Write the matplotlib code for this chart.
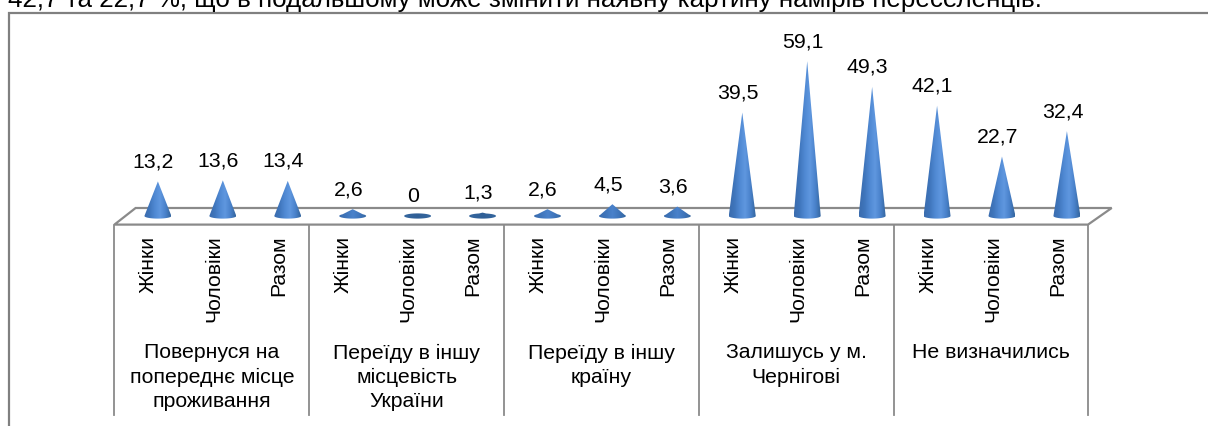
import numpy as np
import matplotlib
matplotlib.use("Agg")
import matplotlib.pyplot as plt
from matplotlib.colors import LinearSegmentedColormap
from matplotlib.patches import Polygon

plt.rcParams['font.family'] = ['Liberation Sans', 'DejaVu Sans']

groups = ["Повернуся на\nпопереднє місце\nпроживання", "Переїду в іншу\nмісцевість\nУкраїни",
          "Переїду в іншу\nкраїну", "Залишусь у м.\nЧернігові", "Не визначились"]
series = ["Жінки", "Чоловіки", "Разом"]
values = [13.2, 13.6, 13.4, 2.6, 0, 1.3, 2.6, 4.5, 3.6, 39.5, 59.1, 49.3, 42.1, 22.7, 32.4]
value_labels = ["13,2", "13,6", "13,4", "2,6", "0", "1,3", "2,6", "4,5", "3,6",
                "39,5", "59,1", "49,3", "42,1", "22,7", "32,4"]
intro = "42,7 та 22,7 %, що в подальшому може змінити наявну картину намірів переселенців."

W, H = 1208, 426
fig = plt.figure(figsize=(W / 100, H / 100), dpi=100, facecolor="white")

# pixel-space axes for the frame and the floor
pa = fig.add_axes([0, 0, 1, 1])
pa.set_xlim(0, W); pa.set_ylim(H, 0); pa.axis("off")
GRAY = "#8a8a8a"
pa.plot([8.8, 8.8, W], [H, 12.8, 12.8], color="#808080", lw=1.6, solid_joinstyle="miter")
pa.add_patch(Polygon([(114.4, 224.6), (135.6, 208), (1111.7, 208), (1088, 224.6)],
                     closed=True, fill=False, ec=GRAY, lw=1.6))
slot = 64.93
for k in range(6):
    x = 114.4 + k * 3 * slot
    pa.plot([x, x], [224.6, 415], color=GRAY, lw=1.3)
pa.text(8, 7.5, intro, fontsize=18.7, color="black", va="baseline", ha="left")

# data axes: category index on x, value on y
da = fig.add_axes([0, 0, 1, 1])
da.patch.set_alpha(0)
y0, ppu = 216.0, 2.62
x0 = 146.9
da.set_xlim(-x0 / slot, (W - x0) / slot)
da.set_ylim((y0 - H) / ppu, y0 / ppu)
da.axis("off")

cmap = LinearSegmentedColormap.from_list(
    "cone", ["#3a6cae", "#3f75bb", "#5089d3", "#5f97df", "#4a82cb", "#34669f"])
low = LinearSegmentedColormap.from_list("low", ["#3a6cae", "#3f75bb", "#4a82cb", "#3f75bb", "#34669f"])
flat = LinearSegmentedColormap.from_list("flat", ["#36679f", "#2f5f96", "#36679f"])
grad = np.linspace(0, 1, 64).reshape(1, -1)
shift = 11 / slot
hw = 13.5 / slot
eh = 2.6 / ppu
for i, (v, lab) in enumerate(zip(values, value_labels)):
    c = i + shift
    s = np.linspace(-1, 1, 81)
    rim = eh * np.sqrt(1 - s ** 2)
    top = np.maximum(v * (1 - np.abs(s)), rim)
    outline = list(zip(c + hw * s, top)) + list(zip(c + hw * s[::-1], -rim[::-1]))
    poly = Polygon(outline, closed=True, transform=da.transData, fc="none", ec="none")
    da.add_patch(poly)
    shade = flat if v < 2 else (low if v < 6 else cmap)
    im = da.imshow(grad, cmap=shade, extent=(c - hw, c + hw, -eh * 1.2, max(v, eh)),
                   aspect="auto", interpolation="bilinear", zorder=3)
    im.set_clip_path(poly)
    da.annotate(lab, (c, v), xytext=(-4.5 * 0.72, 19.5 * 0.72), textcoords="offset points",
                ha="center", va="center", fontsize=15.3, color="black")

for i in range(len(values)):
    da.annotate(series[i % 3], (i, 0), xytext=(1.2, -(235.5 - y0) * 0.72), textcoords="offset points",
                rotation=90, ha="center", va="top", fontsize=15.3, color="black")

for g, name in enumerate(groups):
    for l, line in enumerate(name.split("\n")):
        da.annotate(line, (3 * g + 1, 0), xytext=(0, -(353 + 24.5 * l - y0) * 0.72),
                    textcoords="offset points", ha="center", va="center", fontsize=15.3, color="black")

da.set_xlim(-x0 / slot, (W - x0) / slot)
da.set_ylim((y0 - H) / ppu, y0 / ppu)
fig.savefig("out.png", dpi=100)
